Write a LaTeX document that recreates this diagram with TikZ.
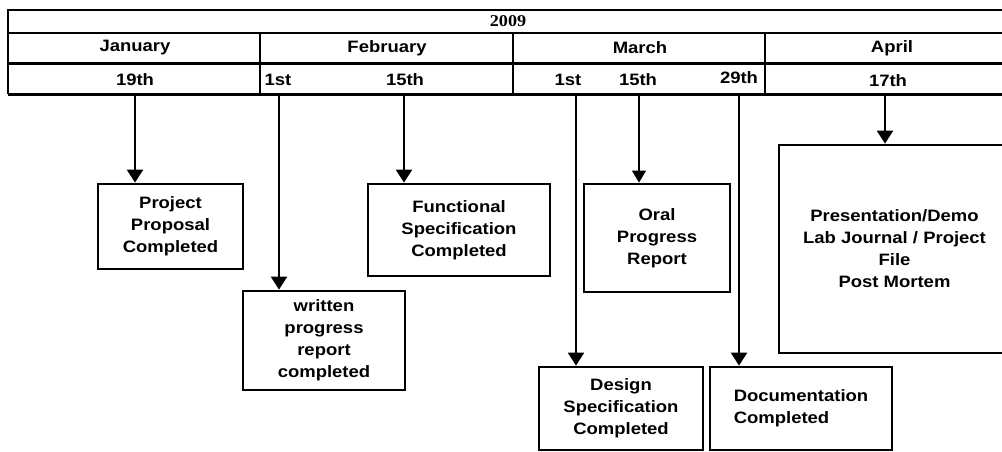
\documentclass[tikz,border=0pt]{standalone}
\usepackage{fontspec}
\setmainfont{Liberation Sans}[FakeStretch=1.12]
\newfontfamily\yearfont{Liberation Serif}[FakeStretch=1.1]
\usetikzlibrary{arrows.meta}
\tikzset{
  lbl/.style={font=\fontsize{16.5}{22}\selectfont\bfseries, inner sep=0pt},
  mbox/.style={lbl, draw, line width=2.8pt, align=center},
  marr/.style={line width=2.4pt, -{Triangle[width=16pt,length=13pt]}},
}
\begin{document}
\begin{tikzpicture}[x=1pt,y=-1pt]
\useasboundingbox (0,0) rectangle (1002,451);
\draw[line width=1.6pt] (1010,10) -- (8,10) -- (8,94);
\draw[line width=1.6pt] (8,33) -- (1010,33);
\draw[line width=3pt] (8,63.5) -- (1010,63.5);
\draw[line width=3pt] (8,94) -- (1010,94);
\foreach \x in {260,513,765} {
  \draw[line width=2.8pt] (\x,33) -- (\x,94);
}
\node[lbl, font=\fontsize{16.5}{22}\selectfont\yearfont\bfseries] (yr) at (508,21) {2009};
\node[lbl] (jan) at (135,48) {January};
\node[lbl] (feb) at (387,48) {February};
\node[lbl] (mar) at (640,48) {March};
\node[lbl] (apr) at (892,48) {April};
\node[lbl] (d19) at (135,80) {19th};
\node[lbl] (f1) at (278,80) {1st};
\node[lbl] (f15) at (405,80) {15th};
\node[lbl] (m1) at (568,80) {1st};
\node[lbl] (m15) at (638,80) {15th};
\node[lbl] (m29) at (739,78) {29th};
\node[lbl] (a17) at (888,81) {17th};
\coordinate (t19) at (135,94);
\coordinate (tf1) at (279,94);
\coordinate (tf15) at (404,94);
\coordinate (tm1) at (576,94);
\coordinate (tm15) at (639,94);
\coordinate (tm29) at (739,94);
\coordinate (ta17) at (885,94);
\node[mbox, minimum width=145pt, minimum height=85pt] (pp) at (170.5,226.5) {Project\\Proposal\\Completed};
\node[mbox, minimum width=182pt, minimum height=92pt] (fs) at (459,230) {Functional\\Specification\\Completed};
\node[mbox, minimum width=162pt, minimum height=99pt] (wr) at (324,340.5) {written\\progress\\report\\completed};
\node[mbox, minimum width=146pt, minimum height=108pt] (oral) at (657,238) {Oral\\Progress\\Report};
\node[mbox, minimum width=231pt, minimum height=208pt] (pr) at (894.5,249) {Presentation/Demo\\Lab Journal / Project\\File\\Post Mortem};
\node[mbox, minimum width=164pt, minimum height=83pt] (ds) at (621,408.5) {Design\\Specification\\Completed};
\node[mbox, align=left, minimum width=182pt, minimum height=83pt] (dc) at (801,408.5) {Documentation\\Completed};
\foreach \s/\t in {t19/pp, tf1/wr, tf15/fs, tm1/ds, tm29/dc, ta17/pr} {
  \draw[marr] (\s) -- (\s |- \t.north);
}
\draw[line width=1.3pt, -{Triangle[width=14pt,length=12pt]}] (tm15) -- (tm15 |- oral.north);
\end{tikzpicture}
\end{document}
